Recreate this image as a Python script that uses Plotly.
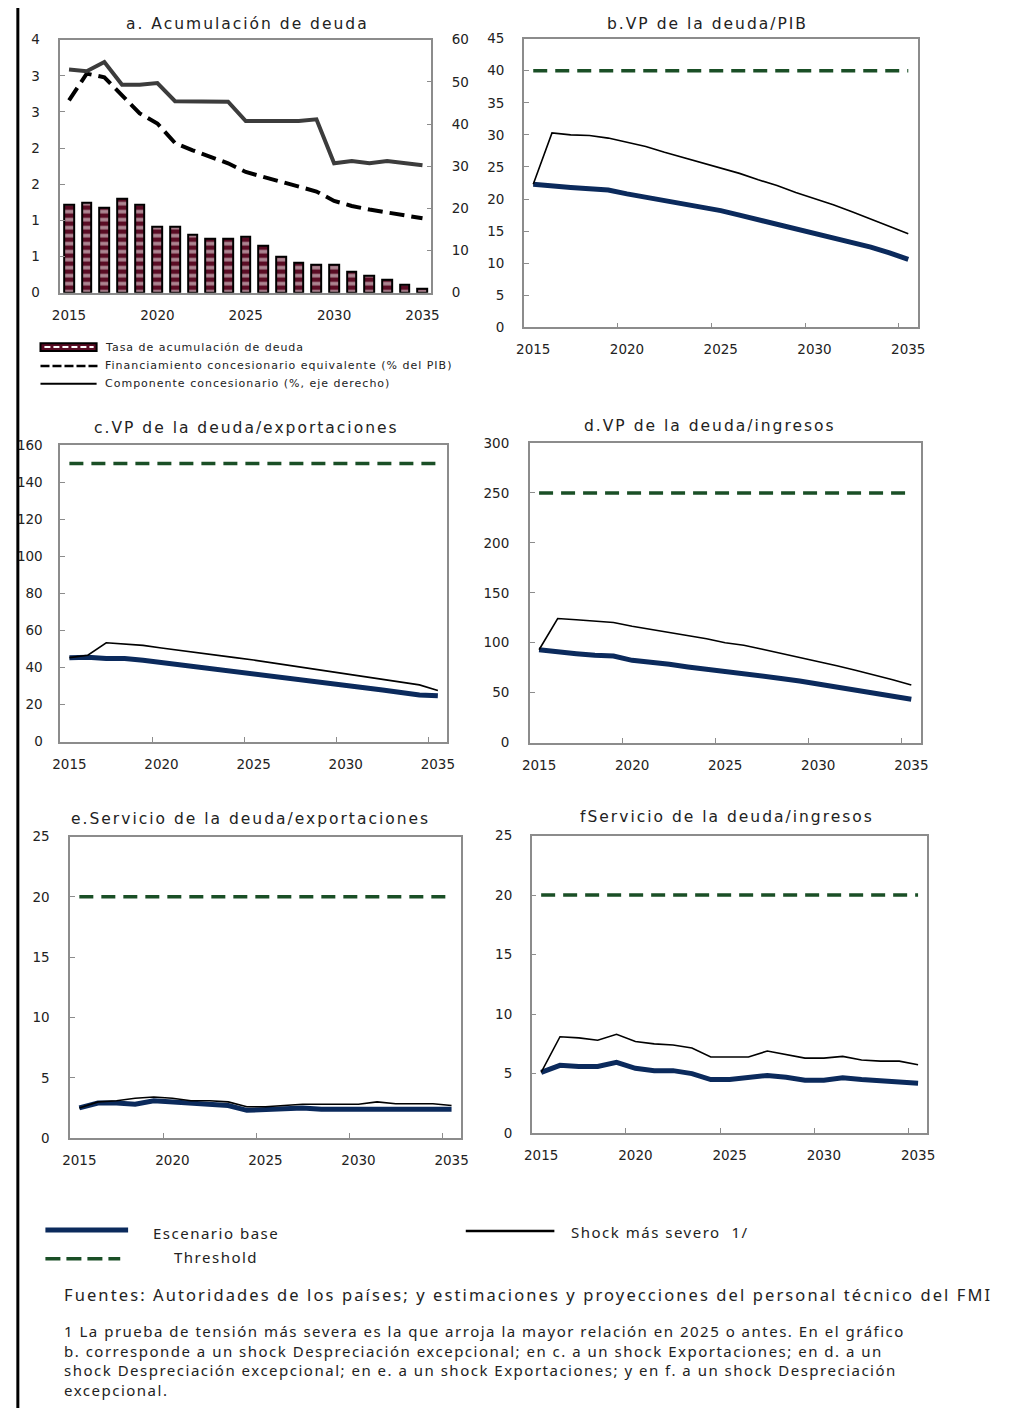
import plotly.graph_objects as go

W, H = 1030, 1416
years = list(range(2015, 2036))
xtick_years = [2015, 2020, 2025, 2030, 2035]

# ---- Panel a: Acumulación de deuda ----
acum_rate = [1.22, 1.24, 1.18, 1.30, 1.22, 0.91, 0.91, 0.80, 0.75, 0.75, 0.78,
             0.65, 0.50, 0.42, 0.39, 0.39, 0.29, 0.24, 0.18, 0.11, 0.05]
fin_conc = [2.66, 3.03, 2.98, 2.73, 2.48, 2.34, 2.07, 1.97, 1.88, 1.79, 1.67,
            1.60, 1.53, 1.47, 1.40, 1.27, 1.20, 1.15, 1.11, 1.07, 1.03]
comp_conc = [52.9, 52.5, 54.7, 49.3, 49.3, 49.7, 45.4, 45.3, 45.3, 45.3, 40.7,
             40.7, 40.7, 40.7, 41.1, 30.7, 31.2, 30.7, 31.2, 30.7, 30.2]
a_left_ticks = [0, 0.5, 1, 1.5, 2, 2.5, 3, 3.5]
a_left_labels = ["0", "1", "1", "2", "2", "3", "3", "4"]

# ---- Panel b: VP de la deuda/PIB ----
base_b = [22.3, 22.0, 21.8, 21.6, 21.4, 20.8, 20.3, 19.8, 19.2, 18.7, 18.2,
          17.5, 16.8, 16.1, 15.4, 14.7, 14.0, 13.3, 12.5, 11.6, 10.6]
shock_b = [22.3, 30.3, 30.0, 29.9, 29.5, 28.8, 28.2, 27.3, 26.5, 25.6, 24.9,
           24.0, 23.0, 22.1, 21.0, 20.1, 19.1, 18.0, 16.9, 15.8, 14.6]
thr_b = 40

# ---- Panel c: VP de la deuda/exportaciones ----
base_c = [45.3, 45.5, 44.8, 44.8, 43.9, 42.7, 41.2, 40.0, 38.6, 37.7, 36.8,
          35.6, 34.1, 32.9, 31.5, 30.2, 29.2, 27.9, 26.5, 25.2, 24.7]
shock_c = [45.3, 46.6, 53.3, 52.8, 51.9, 50.5, 49.3, 48.0, 46.6, 45.3, 44.0,
           42.5, 41.0, 39.6, 38.2, 36.8, 35.3, 33.8, 32.3, 30.6, 27.6]
thr_c = 150

# ---- Panel d: VP de la deuda/ingresos ----
base_d = [93.0, 90.7, 89.0, 87.4, 86.7, 82.4, 80.8, 78.5, 75.8, 73.5, 71.9,
          69.2, 67.6, 64.3, 61.7, 58.7, 56.1, 52.8, 50.1, 47.1, 43.5]
shock_d = [93.0, 124.3, 123.0, 121.5, 120.3, 116.5, 113.5, 110.5, 107.5, 104.0, 100.0,
           97.5, 93.5, 89.5, 85.0, 81.0, 77.0, 72.5, 68.0, 63.0, 57.7]
thr_d = 250

# ---- Panel e: Servicio de la deuda/exportaciones ----
base_e = [2.5, 2.9, 2.9, 2.8, 3.1, 3.0, 2.9, 2.8, 2.7, 2.3, 2.4,
          2.4, 2.5, 2.4, 2.4, 2.4, 2.4, 2.4, 2.4, 2.4, 2.4]
shock_e = [2.5, 3.0, 3.1, 3.3, 3.4, 3.3, 3.1, 3.1, 3.0, 2.6, 2.6,
           2.7, 2.8, 2.8, 2.8, 2.8, 3.0, 2.85, 2.85, 2.85, 2.7]
thr_e = 20

# ---- Panel f: Servicio de la deuda/ingresos ----
base_f = [5.1, 5.7, 5.6, 5.6, 5.95, 5.45, 5.25, 5.25, 5.0, 4.5, 4.5,
          4.65, 4.85, 4.7, 4.45, 4.45, 4.65, 4.5, 4.4, 4.2, 4.2]
shock_f = [5.1, 8.1, 8.0, 7.8, 8.3, 7.7, 7.5, 7.4, 7.15, 6.4, 6.4,
           6.4, 6.9, 6.6, 6.3, 6.3, 6.45, 6.15, 6.05, 6.05, 5.75]
thr_f = 20

titles = ["a. Acumulación de deuda", "b.VP de la deuda/PIB",
          "c.VP de la deuda/exportaciones", "d.VP de la deuda/ingresos",
          "e.Servicio de la deuda/exportaciones", "fServicio de la deuda/ingresos"]
legend_a = ["Tasa de acumulación de deuda",
            "Financiamiento concesionario equivalente (% del PIB)",
            "Componente concesionario (%, eje derecho)"]
legend_main = ["Escenario base", "Shock más severo  1/", "Threshold"]
source_text = "Fuentes: Autoridades de los países; y estimaciones y proyecciones del personal técnico del FMI"
footnote_lines = [
    "1 La prueba de tensión más severa es la que arroja la mayor relación en 2025 o antes. En el gráfico",
    "b. corresponde a un shock Despreciación excepcional; en c. a un shock Exportaciones; en d. a un",
    "shock Despreciación excepcional; en e. a un shock Exportaciones; y en f. a un shock Despreciación",
    "excepcional.",
]

NAVY = "#0b2a5c"
GREEN = "#1a4f26"
MAROON = "#5a0c24"
FRAME = "#8c8c8c"
TXT = "#222222"
FONT = "DejaVu Sans"


def spaced(text, px):
    return '<span style="letter-spacing:%spx">%s</span>' % (px, text)


def dx(l, r):
    return [l / W, r / W]


def dy(t, b):
    return [1 - b / H, 1 - t / H]


line_style = dict(showline=True, linecolor=FRAME, linewidth=1.5, mirror=True,
                  showgrid=False, zeroline=False)
tickfont = dict(family=FONT, size=13.5, color=TXT)


def make_x(l, r, anchor, minor=True):
    d = dict(domain=dx(l, r), anchor=anchor, range=[2014.5, 2035.5],
             tickmode="array", tickvals=xtick_years, ticks="",
             tickfont=tickfont, ticklabelstandoff=9, **line_style)
    if minor:
        d["minor"] = dict(tickmode="array", tickvals=[2019.5, 2024.5, 2029.5, 2034.5],
                          ticks="inside", ticklen=5, tickcolor=FRAME, tickwidth=1)
    return d


def make_y(t, b, anchor, rng, dtick, side="left", standoff=12, **kw):
    d = dict(domain=dy(t, b), anchor=anchor, range=rng, tick0=0, dtick=dtick,
             ticks="inside", ticklen=5, tickcolor=FRAME, tickfont=tickfont,
             ticklabelstandoff=standoff, side=side, **line_style)
    d.update(kw)
    return d


fig = go.Figure()

# Panel a
fig.add_trace(go.Bar(x=years, y=acum_rate, width=0.55, xaxis="x", yaxis="y",
                     marker=dict(color=MAROON, line=dict(color="black", width=2),
                                 pattern=dict(shape="-", fgcolor="white", bgcolor=MAROON,
                                              size=8, solidity=0.45))))
fig.add_trace(go.Scatter(x=years, y=fin_conc, mode="lines", xaxis="x", yaxis="y",
                         line=dict(color="black", width=4, dash="15px,7px")))
fig.add_trace(go.Scatter(x=years, y=comp_conc, mode="lines", xaxis="x", yaxis="y2",
                         line=dict(color="#3c3c3c", width=4)))

# Panels b-f
panels = [
    ("x2", "y3", base_b, shock_b, thr_b),
    ("x3", "y4", base_c, shock_c, thr_c),
    ("x4", "y5", base_d, shock_d, thr_d),
    ("x5", "y6", base_e, shock_e, thr_e),
    ("x6", "y7", base_f, shock_f, thr_f),
]
for xa, ya, base, shock, thr in panels:
    fig.add_trace(go.Scatter(x=years, y=[thr] * len(years), mode="lines", xaxis=xa, yaxis=ya,
                             line=dict(color=GREEN, width=3.5, dash="14px,8px")))
    fig.add_trace(go.Scatter(x=years, y=base, mode="lines", xaxis=xa, yaxis=ya,
                             line=dict(color=NAVY, width=5)))
    fig.add_trace(go.Scatter(x=years, y=shock, mode="lines", xaxis=xa, yaxis=ya,
                             line=dict(color="black", width=1.6)))

layout = dict(
    width=W, height=H, autosize=False, margin=dict(l=0, r=0, t=0, b=0),
    paper_bgcolor="white", plot_bgcolor="white", showlegend=False, bargap=0,
    xaxis=make_x(53, 430, "y", minor=False),
    yaxis=make_y(32, 288, "x", [0, 3.5], 0.5, tickmode="array",
                 tickvals=a_left_ticks, ticktext=a_left_labels, standoff=16),
    yaxis2=make_y(32, 288, "x", [0, 60], 10, side="right", overlaying="y", standoff=16),
    xaxis2=make_x(524, 924, "y3"),
    yaxis3=make_y(31, 323, "x2", [0, 45], 5, standoff=15),
    xaxis3=make_x(53, 446, "y4"),
    yaxis4=make_y(442, 742, "x3", [0, 160], 20, standoff=13),
    xaxis4=make_x(530, 927, "y5"),
    yaxis5=make_y(440, 743, "x4", [0, 300], 50, standoff=16),
    xaxis5=make_x(63, 460, "y6"),
    yaxis6=make_y(838, 1143, "x5", [0, 25], 5, standoff=16),
    xaxis6=make_x(532, 934, "y7"),
    yaxis7=make_y(837, 1138, "x6", [0, 25], 5, standoff=15),
)
fig.update_layout(**layout)

ann = []
title_pos = [(243, 16), (711, 16), (242, 425), (713, 423), (246, 820), (730, 818)]
for t, (cx, cy) in zip(titles, title_pos):
    ann.append(dict(text=spaced(t, 2), x=cx / W, y=1 - cy / H, xref="paper", yref="paper",
                    xanchor="center", yanchor="middle", showarrow=False,
                    font=dict(family=FONT, size=15.5, color=TXT)))

# Legend for panel a
shapes = []
shapes.append(dict(type="rect", xref="paper", yref="paper", x0=33 / W, x1=90 / W,
                   y0=1 - 347 / H, y1=1 - 339 / H, fillcolor=MAROON,
                   line=dict(color="black", width=2)))
shapes.append(dict(type="line", xref="paper", yref="paper", x0=37 / W, x1=87 / W,
                   y0=1 - 343 / H, y1=1 - 343 / H,
                   line=dict(color="white", width=2, dash="6px,3px")))
shapes.append(dict(type="line", xref="paper", yref="paper", x0=33 / W, x1=92 / W,
                   y0=1 - 362 / H, y1=1 - 362 / H,
                   line=dict(color="black", width=2.5, dash="9px,3px")))
shapes.append(dict(type="line", xref="paper", yref="paper", x0=33 / W, x1=90 / W,
                   y0=1 - 380 / H, y1=1 - 380 / H,
                   line=dict(color="black", width=2)))
for t, yy in zip(legend_a, [343, 362, 380]):
    ann.append(dict(text=spaced(t, 1), x=97 / W, y=1 - yy / H, xref="paper", yref="paper",
                    xanchor="left", yanchor="middle", showarrow=False,
                    font=dict(family=FONT, size=11, color=TXT)))

# Main legend
shapes.append(dict(type="line", xref="paper", yref="paper", x0=38 / W, x1=122 / W,
                   y0=1 - 1236 / H, y1=1 - 1236 / H, line=dict(color=NAVY, width=5)))
shapes.append(dict(type="line", xref="paper", yref="paper", x0=465 / W, x1=555 / W,
                   y0=1 - 1237 / H, y1=1 - 1237 / H, line=dict(color="black", width=2.5)))
shapes.append(dict(type="line", xref="paper", yref="paper", x0=38 / W, x1=114 / W,
                   y0=1 - 1265 / H, y1=1 - 1265 / H,
                   line=dict(color=GREEN, width=3.5, dash="15px,6px")))
for t, (xx, yy) in zip(legend_main, [(145, 1239), (570, 1238), (167, 1263)]):
    ann.append(dict(text=spaced(t, 1.5), x=xx / W, y=1 - yy / H, xref="paper", yref="paper",
                    xanchor="left", yanchor="middle", showarrow=False,
                    font=dict(family="Noto Sans", size=15, color=TXT)))

ann.append(dict(text=spaced(source_text, 2.1), x=55 / W, y=1 - 1301 / H, xref="paper", yref="paper",
                xanchor="left", yanchor="middle", showarrow=False,
                font=dict(family="Noto Sans", size=16.5, color=TXT)))
for i, t in enumerate(footnote_lines):
    ann.append(dict(text=spaced(t, 1.5), x=55 / W, y=1 - (1338 + 20 * i) / H,
                    xref="paper", yref="paper",
                    xanchor="left", yanchor="middle", showarrow=False,
                    font=dict(family="Noto Sans", size=15, color=TXT)))

# Left page border
shapes.append(dict(type="line", xref="paper", yref="paper", x0=10 / W, x1=10 / W,
                   y0=0, y1=1, line=dict(color="black", width=3), layer="above"))

fig.update_layout(annotations=ann, shapes=shapes)

page_fix = (
    "var h=document.documentElement,b=document.body;"
    "h.style.margin='0';h.style.padding='0';h.style.overflow='hidden';"
    "b.style.margin='0';b.style.padding='0';b.style.overflow='hidden';"
    "b.style.width='1030px';b.style.height='1416px';"
)
fig.write_html("out.html", config={"displayModeBar": False}, post_script=page_fix)
